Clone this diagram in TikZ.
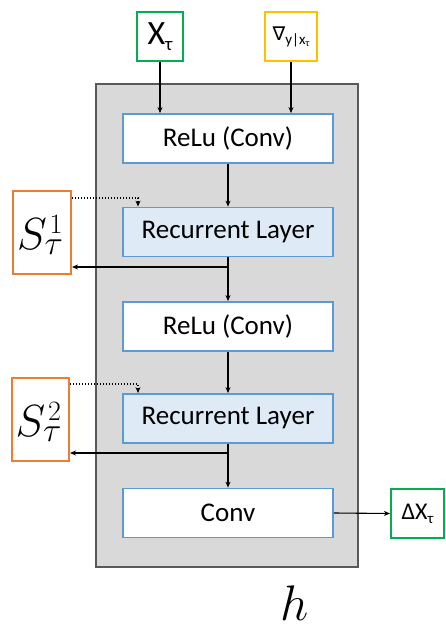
\RequirePackage{fix-cm}
\documentclass[tikz,border=0pt]{standalone}
\usepackage[no-math]{fontspec}
\setmainfont{Carlito}
\newfontfamily\dejavu{DejaVu Sans}
\usetikzlibrary{arrows.meta}
\definecolor{grayfill}{RGB}{217,217,217}
\definecolor{grayline}{RGB}{89,89,89}
\definecolor{blueline}{RGB}{91,155,213}
\definecolor{bluefill}{RGB}{222,235,247}
\definecolor{greenline}{RGB}{0,176,80}
\definecolor{goldline}{RGB}{255,192,0}
\definecolor{orangeline}{RGB}{237,125,49}
\newcommand{\slabel}[1]{{\fontsize{45}{50}\selectfont$S$}\rlap{\kern3pt\raisebox{16pt}{\fontsize{28}{28}\selectfont$#1$}}\kern-2pt\raisebox{-5pt}{\fontsize{34}{34}\selectfont$\tau$}}
\tikzset{
  layerbox/.style={draw=blueline, line width=1.8pt, fill=white, minimum width=210pt, minimum height=49pt, inner sep=0pt, font=\fontsize{27}{30}\selectfont},
  recbox/.style={layerbox, fill=bluefill},
  iobox/.style={draw=#1, line width=2pt, fill=white, inner sep=0pt},
  conn/.style={line width=1.1pt, -{Stealth[length=6pt,width=5pt]}},
  dotconn/.style={conn, dash pattern=on 1.2pt off 1.8pt},
}
\begin{document}
\begin{tikzpicture}[x=1pt,y=-1pt]
\useasboundingbox (0,0) rectangle (446,629);
\node[draw=grayline, fill=grayfill, line width=2pt, minimum width=262pt, minimum height=483pt, inner sep=0pt] (hbox) at (227,325.5) {};
\node[layerbox] (relu1) at (228,138.5) {ReLu (Conv)};
\node[recbox] (rec1) at (228,232) {Recurrent Layer};
\node[layerbox] (relu2) at (228,326.5) {ReLu (Conv)};
\node[recbox] (rec2) at (228,418.5) {Recurrent Layer};
\node[layerbox] (conv) at (228,513) {Conv};
\node[iobox=greenline, minimum width=46pt, minimum height=49pt] (x) at (160,36.5)
  {\fontsize{34}{40}\selectfont X\raisebox{-6pt}{\fontsize{19}{22}\selectfont τ}};
\node[iobox=goldline, minimum width=52pt, minimum height=49pt] (g) at (291,36.5)
  {{\dejavu\fontsize{19}{22}\selectfont ∇}\raisebox{-4pt}{\fontsize{15}{18}\selectfont y|x\raisebox{-2pt}{\fontsize{10}{12}\selectfont τ}}};
\node[iobox=orangeline, minimum width=58pt, minimum height=83pt] (s1) at (42,232.5) {};
\node[inner sep=0pt] (s1t) at (40,235) {\slabel{1}};
\node[iobox=orangeline, minimum width=57pt, minimum height=83pt] (s2) at (40.5,419.5) {};
\node[inner sep=0pt] (s2t) at (38.5,422) {\slabel{2}};
\node[iobox=greenline, minimum width=53pt, minimum height=49pt] (dx) at (417.5,513.5)
  {\fontsize{24}{28}\selectfont ΔX\raisebox{-4pt}{\fontsize{15}{18}\selectfont τ}};
\node[inner sep=0pt] (h) at (295,603) {\fontsize{50}{56}\selectfont $h$};
\coordinate (j1) at (228,267);
\coordinate (j2) at (228,453);
\draw[conn] (x.south) -- (x.south |- relu1.north);
\draw[conn] (g.south) -- (g.south |- relu1.north);
\draw[conn] (relu1.south) -- (rec1.north);
\draw[conn] (rec1.south) -- (relu2.north);
\draw[conn] (j1) -- (s1.east |- j1);
\draw[dotconn] ([yshift=-8pt]s1.north east) -| ([xshift=-90pt]rec1.north);
\draw[conn] (relu2.south) -- (rec2.north);
\draw[conn] (rec2.south) -- (conv.north);
\draw[conn] (j2) -- (s2.east |- j2);
\draw[dotconn] ([yshift=-7pt]s2.north east) -| ([xshift=-90pt]rec2.north);
\draw[conn] (conv.east) -- (dx.west);
\end{tikzpicture}
\end{document}
